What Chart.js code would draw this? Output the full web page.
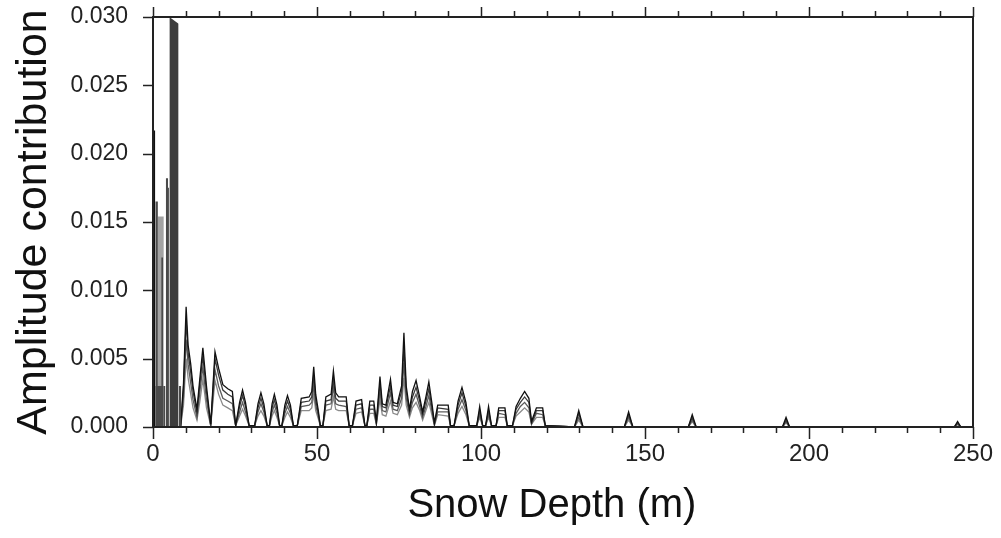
<!DOCTYPE html>
<html>
<head>
<meta charset="utf-8">
<script src="https://cdn.jsdelivr.net/npm/chart.js@4.4.1/dist/chart.umd.min.js"></script>
<style>
  html, body { margin: 0; padding: 0; background: #fff; }
  #chart { display: block; }
</style>
</head>
<body>
<canvas id="chart" width="1001" height="538"></canvas>
<script>
// depth samples (m) shared by the four amplitude curves
const depth = [
  8.4, 9.3, 10.1, 10.7, 11.5, 12.2, 13.4, 14.3, 15.2, 16.3, 17.6, 18.9, 20.0, 21.3, 22.8, 24.2, 25.2,
  26.4, 27.3, 28.2, 29.3, 31.0, 32.0, 32.9, 33.8, 34.8, 35.5, 36.3, 37.0, 37.8, 38.6, 39.3, 40.2, 41.0, 41.9, 42.8,
  44.0, 45.2, 47.6, 48.4, 49.0, 49.6, 50.4, 51.0, 51.8, 52.7, 54.3, 55.0, 55.7, 56.6, 58.9, 59.8,
  60.8, 61.9, 63.6, 64.6, 65.2, 66.1, 67.3, 68.1,
  69.2, 69.9, 71.0, 72.4, 73.2, 74.5, 75.8, 76.5, 77.2, 78.2, 79.1, 80.2, 81.3, 82.2, 83.2, 84.1, 85.0, 85.8,
  86.8, 90.0, 90.7, 91.8, 93.0, 94.2, 95.4, 96.4,
  98.7, 99.6, 100.5, 101.4, 102.3, 103.2, 104.6, 105.4, 107.3, 108.0,
  109.6, 110.7, 112.0, 113.3, 114.6, 115.4, 116.9, 118.8, 119.6,
  128.5, 129.8, 131.1, 143.7, 145.0, 146.3, 163.2, 164.4, 165.6, 191.9, 193.0, 194.1, 244.3, 245.3, 246.3, 250
];

const ampA = [
  0, .0032, .0088, .0060, .0046, .0030, .0013, .0036, .0058, .0030, .0002, .0055, .0043, .0031, .0028, .0026, .0001,
  .0018, .0027, .0018, .0001, .0001, .0017, .0025, .0017, .0001, .0001, .0017, .0024, .0016, .0001, .0001, .0016, .0023, .0016, .0001,
  .0001, .0021, .0022, .0026, .0044, .0024, .0012, .0001, .0001, .0022, .0024, .0041, .0025, .0022, .0022, .0001,
  .0001, .0019, .0020, .0001, .0001, .0019, .0019, .0004,
  .0037, .0017, .0016, .0035, .0018, .0017, .0030, .0069, .0030, .0013, .0026, .0034, .0022, .0011, .0022, .0033, .0018, .0003,
  .0016, .0016, .0001, .0001, .0019, .0029, .0018, .0001,
  .0001, .0015, .0001, .0001, .0015, .0001, .0001, .0014, .0014, .0001,
  .0001, .0015, .0021, .0026, .0021, .0004, .0014, .0014, .0001,
  0, .0012, 0, 0, .0011, 0, 0, .0009, 0, 0, .0007, 0, 0, .0004, 0, 0
];

const ampB = [
  0, .0028, .0078, .0054, .0040, .0026, .0010, .0032, .0052, .0026, .0001, .0050, .0038, .0027, .0024, .0022, .0001,
  .0015, .0023, .0015, .0001, .0001, .0014, .0021, .0014, .0001, .0001, .0014, .0020, .0013, .0001, .0001, .0013, .0019, .0013, .0001,
  .0001, .0018, .0019, .0022, .0038, .0020, .0010, .0001, .0001, .0019, .0020, .0035, .0021, .0019, .0019, .0001,
  .0001, .0016, .0017, .0001, .0001, .0016, .0016, .0003,
  .0032, .0015, .0014, .0030, .0016, .0015, .0026, .0058, .0026, .0011, .0022, .0029, .0019, .0009, .0019, .0028, .0015, .0002,
  .0014, .0013, .0001, .0001, .0016, .0025, .0015, .0001,
  .0001, .0012, .0001, .0001, .0012, .0001, .0001, .0012, .0012, .0001,
  .0001, .0013, .0018, .0022, .0018, .0003, .0012, .0012, .0001,
  0, .0010, 0, 0, .0009, 0, 0, .0007, 0, 0, .0005, 0, 0, .0003, 0, 0
];

const ampC = [
  0, .0022, .0064, .0046, .0032, .0020, .0007, .0026, .0044, .0020, .0001, .0042, .0030, .0021, .0019, .0017, .0001,
  .0011, .0018, .0011, .0001, .0001, .0011, .0017, .0011, .0001, .0001, .0011, .0016, .0010, .0001, .0001, .0010, .0015, .0010, .0001,
  .0001, .0015, .0016, .0018, .0031, .0016, .0008, .0001, .0001, .0016, .0017, .0029, .0017, .0016, .0015, .0001,
  .0001, .0013, .0014, .0001, .0001, .0013, .0013, .0002,
  .0026, .0012, .0011, .0025, .0013, .0012, .0021, .0047, .0021, .0009, .0018, .0024, .0015, .0007, .0015, .0023, .0012, .0002,
  .0011, .0011, .0001, .0001, .0013, .0020, .0012, .0001,
  .0001, .0009, .0001, .0001, .0009, .0001, .0001, .0010, .0009, .0001,
  .0001, .0010, .0015, .0018, .0014, .0002, .0010, .0009, .0001,
  0, .0007, 0, 0, .0007, 0, 0, .0005, 0, 0, .0004, 0, 0, .0002, 0, 0
];

const ampD = [
  0, .0016, .0050, .0036, .0024, .0014, .0005, .0019, .0035, .0014, .0001, .0034, .0024, .0016, .0014, .0012, .0001,
  .0008, .0013, .0008, .0001, .0001, .0008, .0012, .0008, .0001, .0001, .0008, .0012, .0007, .0001, .0001, .0007, .0011, .0007, .0001,
  .0001, .0012, .0012, .0014, .0024, .0012, .0006, .0001, .0001, .0012, .0013, .0022, .0013, .0012, .0012, .0001,
  .0001, .0010, .0011, .0001, .0001, .0010, .0010, .0002,
  .0020, .0009, .0008, .0019, .0010, .0009, .0016, .0036, .0016, .0007, .0014, .0018, .0012, .0005, .0012, .0018, .0009, .0001,
  .0009, .0008, .0001, .0001, .0010, .0015, .0009, .0001,
  .0001, .0007, .0001, .0001, .0007, .0001, .0001, .0007, .0007, .0001,
  .0001, .0008, .0011, .0014, .0011, .0002, .0007, .0007, .0001,
  0, .0005, 0, 0, .0005, 0, 0, .0004, 0, 0, .0003, 0, 0, .0002, 0, 0
];

// shallow contributions, drawn as solid blocks (top at left / right edge)
const barStart  = [0.0, 0.7, 1.5, 2.5, 0.7, 3.3, 3.9, 4.6, 5.0, 7.9];
const barEnd    = [0.7, 1.5, 3.3, 3.1, 3.3, 3.8, 4.6, 4.9, 7.8, 8.6];
const barTop    = [0.0217, 0.0165, 0.0154, 0.0124, 0.0030, 0.0030, 0.0182, 0.0175, 0.0300, 0.0030];
const barTopEnd = [0.0217, 0.0165, 0.0154, 0.0124, 0.0030, 0.0030, 0.0182, 0.0175, 0.0295, 0.0030];
const barShade = ['#111', '#4a4a4a', '#a3a3a3', '#4a4a4a', '#4a4a4a', '#4a4a4a', '#4a4a4a', '#4a4a4a', '#3d3d3d', '#4a4a4a'];

const yTicks = [0, 0.005, 0.010, 0.015, 0.020, 0.025, 0.030];
const xTicks = [0, 50, 100, 150, 200, 250];

const FONT = "'Liberation Sans', Arial, Helvetica, sans-serif";

const curve = (vals, color) => ({
  data: depth.map((x, i) => ({ x, y: vals[i] })),
  borderColor: color,
  borderWidth: 1.3,
  pointRadius: 0,
  fill: false,
  tension: 0
});

// blocks: later entries paint over earlier ones, chart.js paints index 0 last
const barSets = barStart.map((x0, i) => ({
  data: [
    { x: x0, y: 0 }, { x: x0, y: barTop[i] },
    { x: barEnd[i], y: barTopEnd[i] }, { x: barEnd[i], y: 0 }
  ],
  borderWidth: 0,
  borderColor: barShade[i],
  backgroundColor: barShade[i],
  pointRadius: 0,
  fill: 'origin',
  tension: 0
})).reverse();

// frame plus outward ticks (10 m minor, 50 m major)
const frameTicks = {
  id: 'frameTicks',
  afterDraw(chart) {
    const { ctx, chartArea: a, scales: { x, y } } = chart;
    ctx.save();
    ctx.strokeStyle = '#222';
    ctx.lineWidth = 1.5;
    ctx.beginPath();
    for (let v = 0; v <= 250; v += 10) {
      const px = Math.round(x.getPixelForValue(v)) + 0.5;
      const major = v % 50 === 0;
      ctx.moveTo(px, a.bottom);
      ctx.lineTo(px, a.bottom + (major ? 12 : 6));
      ctx.moveTo(px, a.top);
      ctx.lineTo(px, a.top - (major ? 10 : 6));
    }
    yTicks.forEach(v => {
      const py = Math.round(y.getPixelForValue(v)) + 0.5;
      ctx.moveTo(a.left, py);
      ctx.lineTo(a.left - 10, py);
    });
    ctx.stroke();
    ctx.lineWidth = 2;
    ctx.strokeRect(a.left, a.top, a.right - a.left, a.bottom - a.top);
    ctx.restore();
  }
};

new Chart(document.getElementById('chart'), {
  type: 'line',
  data: {
    datasets: [
      ...barSets,
      curve(ampA, '#111'),
      curve(ampB, '#3a3a3a'),
      curve(ampC, '#5c5c5c'),
      curve(ampD, '#8a8a8a')
    ]
  },
  options: {
    responsive: false,
    animation: false,
    devicePixelRatio: 1,
    layout: { padding: { left: 0, top: 17, right: 28, bottom: 0 } },
    plugins: { legend: { display: false }, tooltip: { enabled: false } },
    scales: {
      x: {
        type: 'linear',
        min: 0,
        max: 250,
        afterFit: s => { s.height = 111; s.paddingLeft = 0; s.paddingRight = 0; },
        afterBuildTicks: s => { s.ticks = xTicks.map(value => ({ value })); },
        grid: { display: false, drawTicks: false },
        border: { display: false },
        ticks: { color: '#222', padding: 13, maxRotation: 0, font: { family: FONT, size: 24 } },
        title: {
          display: true,
          text: 'Snow Depth (m)  ',
          color: '#111',
          font: { family: FONT, size: 40 },
          padding: { top: 0, bottom: 8 }
        }
      },
      y: {
        min: 0,
        max: 0.03,
        afterFit: s => { s.width = 153; s.paddingTop = 0; s.paddingBottom = 0; },
        afterBuildTicks: s => { s.ticks = yTicks.map(value => ({ value })); },
        grid: { display: false, drawTicks: false },
        border: { display: false },
        ticks: {
          color: '#222',
          padding: 25,
          font: { family: FONT, size: 23 },
          callback: v => v.toFixed(3)
        },
        title: {
          display: true,
          text: 'Amplitude contribution',
          color: '#111',
          font: { family: FONT, size: 43 },
          padding: { top: 8, bottom: 0 }
        }
      }
    }
  },
  plugins: [frameTicks]
});
</script>
</body>
</html>
